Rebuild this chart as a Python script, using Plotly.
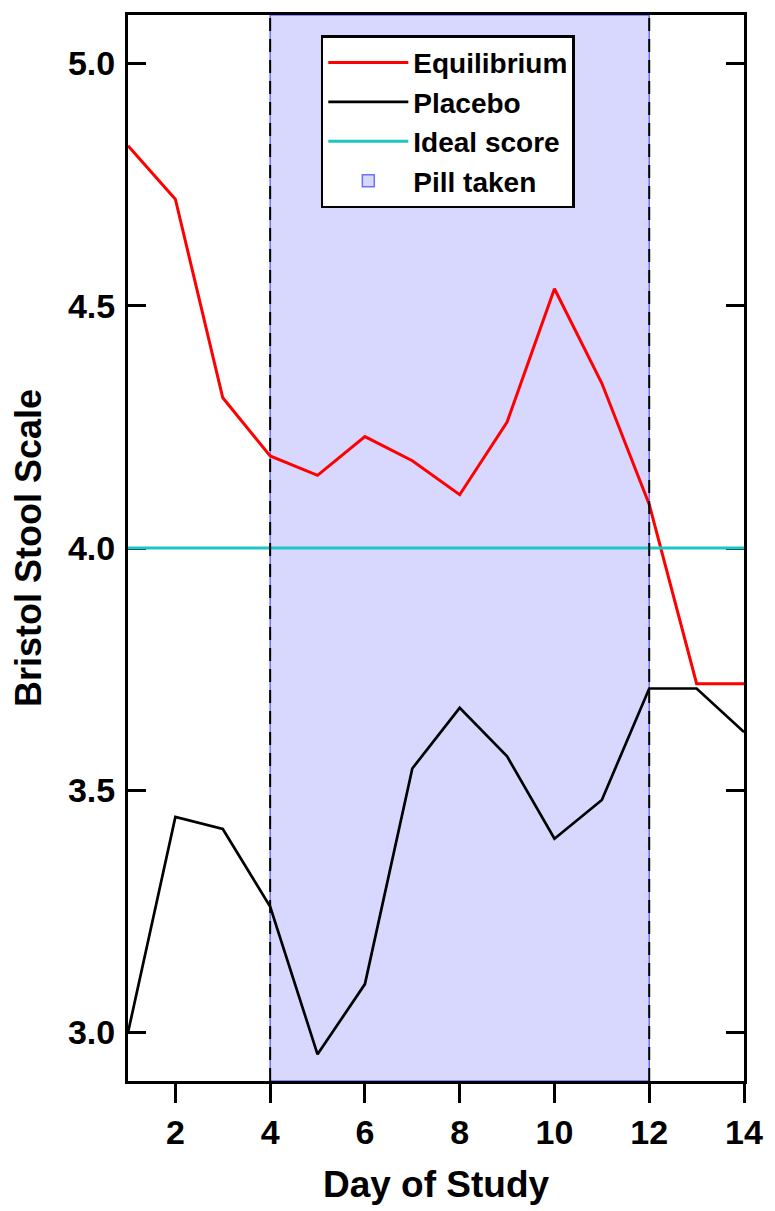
import plotly.graph_objects as go

days = list(range(1, 15))
equilibrium = [4.83, 4.72, 4.31, 4.19, 4.15, 4.23, 4.18, 4.11, 4.26, 4.535, 4.34, 4.09, 3.72, 3.72]
placebo = [3.00, 3.445, 3.42, 3.26, 2.955, 3.10, 3.545, 3.67, 3.57, 3.40, 3.48, 3.71, 3.71, 3.62]
ideal_score = 4.0
pill_start, pill_end = 4, 12
x_ticks = [2, 4, 6, 8, 10, 12, 14]
y_ticks = [3.0, 3.5, 4.0, 4.5, 5.0]

FONT = "Arial, 'Liberation Sans', sans-serif"

fig = go.Figure()
fig.add_trace(go.Scatter(x=days, y=equilibrium, mode="lines", name="Equilibrium",
                         line=dict(color="#ff0000", width=3), legendrank=1))
fig.add_trace(go.Scatter(x=days, y=placebo, mode="lines", name="Placebo",
                         line=dict(color="#000000", width=2.7), legendrank=2))

fig.add_shape(type="rect", xref="x", yref="paper", x0=pill_start, x1=pill_end, y0=0, y1=1,
              fillcolor="rgba(60,60,255,0.2)", line=dict(color="rgba(70,70,255,0.75)", width=1.5),
              layer="below", showlegend=True, name="Pill taken", legendrank=4)
fig.add_shape(type="line", xref="x", yref="y", x0=days[0], x1=days[-1],
              y0=ideal_score, y1=ideal_score, line=dict(color="#1fc4c4", width=3),
              layer="above", showlegend=True, name="Ideal score", legendrank=3)
for xv in (pill_start, pill_end):
    fig.add_shape(type="line", xref="x", yref="paper", x0=xv, x1=xv, y0=0, y1=1,
                  line=dict(color="black", width=2, dash="13px,8px"), layer="above")

fig.update_layout(
    width=775, height=1211,
    margin=dict(l=128, r=25, t=15, b=129),
    paper_bgcolor="white", plot_bgcolor="white",
    font=dict(family=FONT, size=24, color="black"),
    showlegend=True,
    legend=dict(x=0.313, y=0.981, xanchor="left", yanchor="top",
                bgcolor="white", bordercolor="black", borderwidth=2.5,
                font=dict(family=FONT, size=28, color="black", weight="bold"),
                tracegroupgap=0, itemwidth=80, traceorder="normal"),
)
fig.update_xaxes(range=[1, 14], tickvals=x_ticks, ticks="outside", ticklen=19, tickwidth=3,
                 tickcolor="black", showline=True, linecolor="black", linewidth=3, mirror=True,
                 showgrid=False, zeroline=False,
                 tickfont=dict(family=FONT, size=34, weight="bold"),
                 title=dict(text="<b>Day of Study</b>", font=dict(family=FONT, size=37), standoff=22))
fig.update_yaxes(range=[2.9, 5.1], tickvals=y_ticks, tickformat=".1f", ticks="inside", ticklen=18,
                 tickwidth=3, tickcolor="black", showline=True, linecolor="black", linewidth=3,
                 mirror="ticks", showgrid=False, zeroline=False, ticklabelstandoff=3,
                 tickfont=dict(family=FONT, size=34, weight="bold"),
                 title=dict(text="<b>Bristol Stool Scale</b>", font=dict(family=FONT, size=36), standoff=16))

fig.write_html("out.html", config={"displayModeBar": False},
               post_script="document.body.style.margin='0';document.body.style.overflow='hidden';")
